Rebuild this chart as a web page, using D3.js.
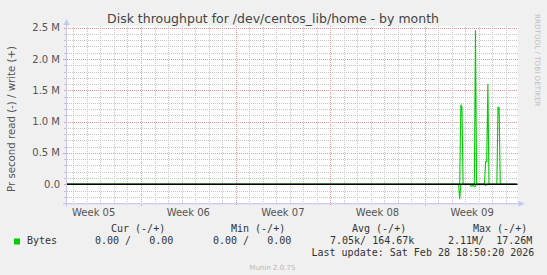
<!DOCTYPE html>
<html>
<head>
<meta charset="utf-8">
<script src="https://cdn.jsdelivr.net/npm/d3@7"></script>
<style>
  body { margin: 0; background: #f0f0f0; }
  svg { display: block; }
  text { font-family: "DejaVu Sans", sans-serif; }
  .mono { font-family: "DejaVu Sans Mono", monospace; font-size: 10px; fill: #333; white-space: pre; }
</style>
</head>
<body>
<div id="chart"></div>
<script>
// ---- data ----
var title = "Disk throughput for /dev/centos_lib/home - by month";
var yLabel = "Pr second read (-) / write (+)";

var weekTicks = ["2026-01-28T12:00", "2026-02-04T12:00", "2026-02-11T12:00", "2026-02-18T12:00", "2026-02-25T12:00"];
var weekLabels = ["Week 05", "Week 06", "Week 07", "Week 08", "Week 09"];

var yTicks = [0, 500000, 1000000, 1500000, 2000000, 2500000];
var yTickLabels = ["0.0", "0.5 M", "1.0 M", "1.5 M", "2.0 M", "2.5 M"];

// write (+) bytes per second, 2h samples
var writeTimes = ["2026-01-26T12:00", "2026-02-24T14:00", "2026-02-24T16:00", "2026-02-24T18:00", "2026-02-24T20:00",
  "2026-02-25T16:00", "2026-02-25T18:00", "2026-02-25T20:00",
  "2026-02-26T10:00", "2026-02-26T12:00", "2026-02-26T14:00", "2026-02-26T16:00", "2026-02-26T18:00",
  "2026-02-27T08:00", "2026-02-27T10:00", "2026-02-27T12:00", "2026-02-27T14:00", "2026-02-28T18:00"];
var writeValues = [0, 0, 1270000, 1230000, 0,
  0, 2460000, 0,
  0, 360000, 360000, 1600000, 0,
  0, 1230000, 1220000, 0, 0];

// read (-) bytes per second
var readTimes = ["2026-01-26T12:00", "2026-02-24T12:00", "2026-02-24T14:00", "2026-02-24T16:00",
  "2026-02-25T08:00", "2026-02-25T10:00", "2026-02-25T12:00", "2026-02-25T14:00", "2026-02-25T16:00", "2026-02-25T18:00", "2026-02-25T20:00",
  "2026-02-26T10:00", "2026-02-26T12:00", "2026-02-26T14:00", "2026-02-28T18:00"];
var readValues = [0, 0, -240000, 0,
  0, -30000, -30000, 0, -40000, -30000, 0,
  0, -20000, 0, 0];

var legendHeads = ["Cur (-/+)", "Min (-/+)", "Avg (-/+)", "Max (-/+)"];
var legendValues = ["0.00 /   0.00", "0.00 /   0.00", "7.05k/ 164.67k", "2.11M/  17.26M"];
var seriesName = "Bytes";
var lastUpdate = "Last update: Sat Feb 28 18:50:20 2026";

// ---- drawing ----
var W = 547, H = 275;
var plot = { left: 66, right: 517.5, top: 26, bottom: 203.3 };
var parse = d3.utcParse("%Y-%m-%dT%H:%M");

var svg = d3.select("#chart").append("svg")
    .attr("width", W)
    .attr("height", H);

// checker patterns so 1px grid lines come out dotted, rrdtool style
var defs = svg.append("defs");
function dots(id, col) {
  var p = defs.append("pattern").attr("id", id)
      .attr("patternUnits", "userSpaceOnUse")
      .attr("width", 2).attr("height", 2);
  p.append("rect").attr("x", 0).attr("y", 0).attr("width", 1).attr("height", 1).attr("fill", col);
  p.append("rect").attr("x", 1).attr("y", 1).attr("width", 1).attr("height", 1).attr("fill", col);
}
dots("gMinor", "#c4c4c4");
dots("gMajor", "#e49a9a");

var x = d3.scaleUtc()
    .domain([parse("2026-01-26T10:48"), parse("2026-02-28T20:38")])
    .range([plot.left, plot.right]);
var y = d3.scaleLinear()
    .domain([-303500, 2527000])
    .range([plot.bottom, plot.top]);

svg.append("rect")
    .attr("x", plot.left).attr("y", plot.top)
    .attr("width", plot.right - plot.left).attr("height", plot.bottom - plot.top)
    .attr("fill", "#fff");

var grid = svg.append("g").attr("shape-rendering", "crispEdges");
var days = d3.utcDay.range(x.domain()[0], x.domain()[1]);
var sundays = d3.utcSunday.range(x.domain()[0], x.domain()[1]);
var minorY = y.ticks(28);
var gTop = Math.round(plot.top), gBot = Math.round(plot.bottom);

function vlines(data, fill, extra) {
  grid.append("g").selectAll("rect").data(data).enter().append("rect")
      .attr("x", function(d) { return Math.round(x(d)); })
      .attr("y", gTop).attr("width", 1)
      .attr("height", gBot - gTop + extra)
      .attr("fill", fill);
}
function hlines(data, fill, extra) {
  grid.append("g").selectAll("rect").data(data).enter().append("rect")
      .attr("x", plot.left - extra).attr("width", Math.round(plot.right - plot.left) + extra)
      .attr("y", function(d) { return Math.round(y(d)); })
      .attr("height", 1)
      .attr("fill", fill);
}
vlines(days, "url(#gMinor)", 0);
hlines(minorY, "url(#gMinor)", 0);
// little ticks left of the y axis
grid.append("g").selectAll("rect").data(minorY).enter().append("rect")
    .attr("x", plot.left - 2).attr("width", 2)
    .attr("y", function(d) { return Math.round(y(d)); }).attr("height", 1)
    .attr("fill", "#c4c4c4");
vlines(sundays, "url(#gMajor)", 3);
hlines(yTicks, "url(#gMajor)", 3);

// series
var line = d3.line()
    .x(function(d) { return x(d.t); })
    .y(function(d) { return y(d.v); });
var writeData = writeTimes.map(function(t, i) { return { t: parse(t), v: writeValues[i] }; });
var readData = readTimes.map(function(t, i) { return { t: parse(t), v: readValues[i] }; });

svg.append("path").datum(readData)
    .attr("d", line).attr("fill", "none")
    .attr("stroke", "#00cc00").attr("stroke-width", 1.1);
svg.append("path").datum(writeData)
    .attr("d", line).attr("fill", "none")
    .attr("stroke", "#00cc00").attr("stroke-width", 1.1);

// zero rule
svg.append("line")
    .attr("x1", plot.left).attr("x2", plot.right)
    .attr("y1", y(0)).attr("y2", y(0))
    .attr("stroke", "#000").attr("stroke-width", 1.6);

// axes with arrows
var axisCol = "#c6c6f2";
svg.append("line")
    .attr("x1", plot.left + 0.5).attr("x2", plot.left + 0.5)
    .attr("y1", plot.bottom + 3).attr("y2", plot.top - 2)
    .attr("stroke", axisCol);
svg.append("path")
    .attr("d", "M" + (plot.left - 2.5) + "," + (plot.top - 1) + "L" + (plot.left + 0.5) + "," + (plot.top - 7) + "L" + (plot.left + 3.5) + "," + (plot.top - 1) + "Z")
    .attr("fill", axisCol);
svg.append("line")
    .attr("x1", plot.left - 3).attr("x2", plot.right + 2)
    .attr("y1", plot.bottom + 0.5).attr("y2", plot.bottom + 0.5)
    .attr("stroke", axisCol);
svg.append("path")
    .attr("d", "M" + (plot.right + 1) + "," + (plot.bottom - 2.5) + "L" + (plot.right + 7) + "," + (plot.bottom + 0.5) + "L" + (plot.right + 1) + "," + (plot.bottom + 3.5) + "Z")
    .attr("fill", axisCol);

// tick labels
svg.append("g").selectAll("text").data(yTicks).enter().append("text")
    .attr("x", 60).attr("y", function(d) { return y(d) + 3.5; })
    .attr("text-anchor", "end")
    .attr("font-size", 10).attr("fill", "#555")
    .text(function(d, i) { return yTickLabels[i]; });
svg.append("g").selectAll("text").data(weekTicks).enter().append("text")
    .attr("x", function(d) { return x(parse(d)); }).attr("y", 216)
    .attr("text-anchor", "middle")
    .attr("font-size", 10).attr("fill", "#555")
    .text(function(d, i) { return weekLabels[i]; });

// titles
svg.append("text")
    .attr("x", 273).attr("y", 23)
    .attr("text-anchor", "middle")
    .attr("font-size", 12.5).attr("fill", "#444")
    .text(title);
svg.append("text")
    .attr("transform", "translate(15,119) rotate(-90)")
    .attr("text-anchor", "middle")
    .attr("font-size", 10.2).attr("fill", "#555")
    .text(yLabel);
svg.append("text")
    .attr("transform", "translate(535,14) rotate(90)")
    .attr("font-size", 7.2).attr("fill", "#c0c0c0")
    .text("RRDTOOL / TOBI OETIKER");

// legend
var headX = [111, 231, 352, 473];
var valX = [95, 213, 330, 448];
svg.append("g").selectAll("text").data(legendHeads).enter().append("text")
    .attr("class", "mono")
    .attr("x", function(d, i) { return headX[i]; }).attr("y", 232)
    .text(function(d) { return d; });
svg.append("rect")
    .attr("x", 14).attr("y", 238.5).attr("width", 6).attr("height", 6)
    .attr("fill", "#00cc00");
svg.append("text").attr("class", "mono")
    .attr("x", 27).attr("y", 244)
    .text(seriesName);
svg.append("g").selectAll("text").data(legendValues).enter().append("text")
    .attr("class", "mono")
    .attr("x", function(d, i) { return valX[i]; }).attr("y", 244)
    .text(function(d) { return d; });
svg.append("text").attr("class", "mono")
    .attr("x", 311.5).attr("y", 256)
    .text(lastUpdate);
svg.append("text")
    .attr("x", 272.5).attr("y", 270)
    .attr("text-anchor", "middle")
    .attr("font-size", 7).attr("fill", "#b8b8b8")
    .text("Munin 2.0.75");
</script>
</body>
</html>
